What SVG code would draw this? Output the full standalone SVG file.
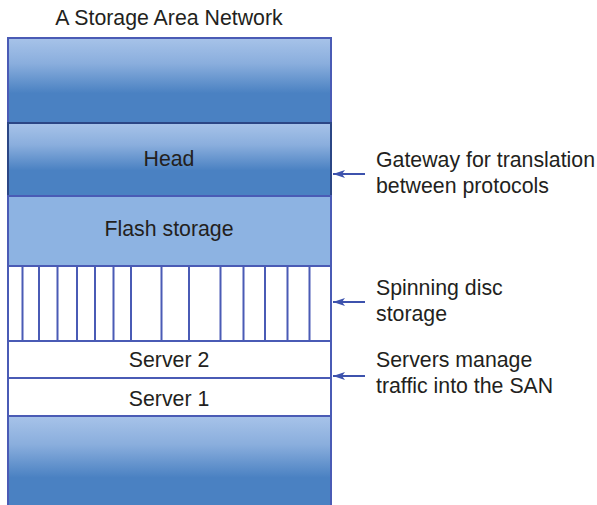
<svg xmlns="http://www.w3.org/2000/svg" width="597" height="505" viewBox="0 0 597 505">
  <defs>
    <linearGradient id="blueFade" x1="0" y1="0" x2="0" y2="1">
      <stop offset="0" stop-color="#a7c3e9"/>
      <stop offset="0.3" stop-color="#8aaedd"/>
      <stop offset="0.65" stop-color="#4a81c2"/>
      <stop offset="1" stop-color="#4a81c2"/>
    </linearGradient>
    <marker id="arrowHead" viewBox="0 0 12 8" refX="12" refY="4" markerWidth="12" markerHeight="8" markerUnits="userSpaceOnUse" orient="auto">
      <path d="M0,0 L12,4 L0,8 L3,4 Z" fill="#3d52ad"/>
    </marker>
  </defs>
  <style>
    text { font-family: "Liberation Sans", Arial, sans-serif; font-size: 21.3px; fill: #231f20; }
    .mid { text-anchor: middle; }
    .box { stroke: #4a5bb5; stroke-width: 2; }
    .grad { fill: url(#blueFade); }
    .divider { stroke: #4a5bb5; stroke-width: 2; fill: none; }
    .pointer { stroke: #3d52ad; stroke-width: 2; fill: none; marker-end: url(#arrowHead); }
  </style>

  <rect width="597" height="505" fill="#ffffff"/>

  <text id="title" class="mid" x="169" y="25">A Storage Area Network</text>

  <g id="top-cap">
    <rect class="box grad" x="8" y="38" width="323" height="85"/>
  </g>

  <g id="head">
    <rect class="grad" x="8" y="123" width="323" height="73" stroke="#2b4685" stroke-width="2"/>
    <text class="mid" x="169" y="166">Head</text>
  </g>

  <g id="flash-storage">
    <rect class="box" x="8" y="196" width="323" height="70" fill="#8db3e2"/>
    <text class="mid" x="169" y="236">Flash storage</text>
  </g>

  <g id="disc-storage">
    <rect class="box" x="8" y="266" width="323" height="75" fill="#ffffff"/>
    <path class="divider" d="M22.5,266V341 M39,266V341 M57.5,266V341 M77,266V341 M95,266V341 M113.5,266V341 M131,266V341 M161.5,266V341 M189,266V341 M220.5,266V341 M243.5,266V341 M265,266V341 M287.5,266V341 M309.5,266V341"/>
  </g>

  <g id="server-2">
    <rect class="box" x="8" y="341" width="323" height="37" fill="#ffffff"/>
    <text class="mid" x="169" y="367">Server 2</text>
  </g>

  <g id="server-1">
    <rect class="box" x="8" y="378" width="323" height="38" fill="#ffffff"/>
    <text class="mid" x="169" y="406">Server 1</text>
  </g>

  <g id="base">
    <rect class="box grad" x="8" y="416" width="323" height="95"/>
  </g>

  <g id="connectors">
    <line class="pointer" x1="365" y1="174" x2="333" y2="174"/>
    <line class="pointer" x1="365" y1="302" x2="333" y2="302"/>
    <line class="pointer" x1="365" y1="376" x2="333" y2="376"/>
  </g>

  <g id="label-gateway">
    <text x="376" y="167">Gateway for translation</text>
    <text x="376" y="193">between protocols</text>
  </g>

  <g id="label-disc">
    <text x="376" y="295">Spinning disc</text>
    <text x="376" y="321">storage</text>
  </g>

  <g id="label-servers">
    <text x="376" y="367">Servers manage</text>
    <text x="376" y="393">traffic into the SAN</text>
  </g>
</svg>
